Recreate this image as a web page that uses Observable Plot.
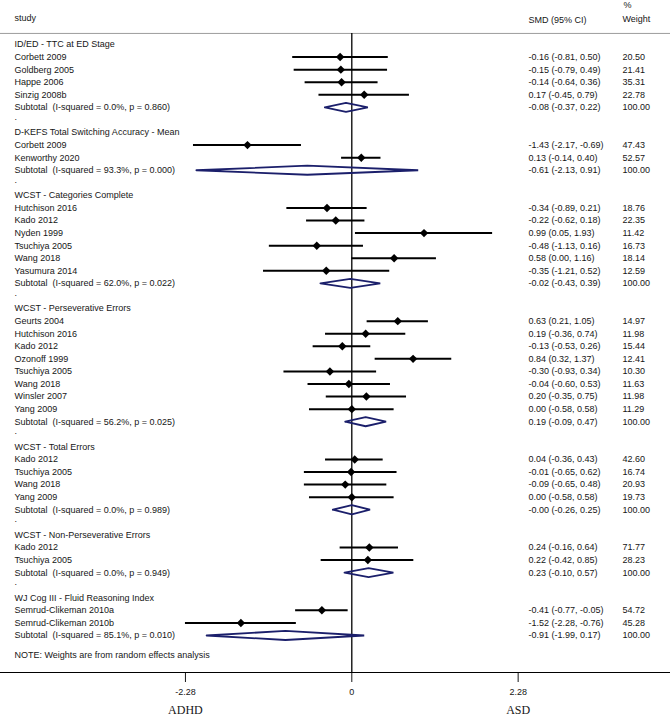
<!DOCTYPE html>
<html><head><meta charset="utf-8">
<script src="https://cdn.jsdelivr.net/npm/d3@7"></script>
<script src="https://cdn.jsdelivr.net/npm/@observablehq/plot@0.6"></script>
<style>body{margin:0;background:#fff} #chart svg{display:block}</style>
</head><body><div id="chart"></div>
<script>
const groupTitles = [
  "ID/ED - TTC at ED Stage",
  "D-KEFS Total Switching Accuracy - Mean",
  "WCST - Categories Complete",
  "WCST - Perseverative Errors",
  "WCST - Total Errors",
  "WCST - Non-Perseverative Errors",
  "WJ Cog III - Fluid Reasoning Index"
];
const studyNames = [
  "Corbett 2009","Goldberg 2005","Happe 2006","Sinzig 2008b",
  "Corbett 2009","Kenworthy 2020",
  "Hutchison 2016","Kado 2012","Nyden 1999","Tsuchiya 2005","Wang 2018","Yasumura 2014",
  "Geurts 2004","Hutchison 2016","Kado 2012","Ozonoff 1999","Tsuchiya 2005","Wang 2018","Winsler 2007","Yang 2009",
  "Kado 2012","Tsuchiya 2005","Wang 2018","Yang 2009",
  "Kado 2012","Tsuchiya 2005",
  "Semrud-Clikeman 2010a","Semrud-Clikeman 2010b"
];
const studyGroup = [0,0,0,0, 1,1, 2,2,2,2,2,2, 3,3,3,3,3,3,3,3, 4,4,4,4, 5,5, 6,6];
const smd    = [-0.16,-0.15,-0.14,0.17, -1.43,0.13, -0.34,-0.22,0.99,-0.48,0.58,-0.35, 0.63,0.19,-0.13,0.84,-0.30,-0.04,0.20,0.00, 0.04,-0.01,-0.09,0.00, 0.24,0.22, -0.41,-1.52];
const ciLow  = [-0.81,-0.79,-0.64,-0.45, -2.17,-0.14, -0.89,-0.62,0.05,-1.13,0.00,-1.21, 0.21,-0.36,-0.53,0.32,-0.93,-0.60,-0.35,-0.58, -0.36,-0.65,-0.65,-0.58, -0.16,-0.42, -0.77,-2.28];
const ciHigh = [0.50,0.49,0.36,0.79, -0.69,0.40, 0.21,0.18,1.93,0.16,1.16,0.52, 1.05,0.74,0.26,1.37,0.34,0.53,0.75,0.58, 0.43,0.62,0.48,0.58, 0.64,0.85, -0.05,-0.76];
const weightPct = [20.50,21.41,35.31,22.78, 47.43,52.57, 18.76,22.35,11.42,16.73,18.14,12.59, 14.97,11.98,15.44,12.41,10.30,11.63,11.98,11.29, 42.60,16.74,20.93,19.73, 71.77,28.23, 54.72,45.28];
const subSmd  = [-0.08,-0.61,-0.02,0.19,-0,0.23,-0.91];
const subLow  = [-0.37,-2.13,-0.43,-0.09,-0.26,-0.10,-1.99];
const subHigh = [0.22,0.91,0.39,0.47,0.25,0.57,0.17];
const subI2   = [0.0,93.3,62.0,56.2,0.0,0.0,85.1];
const subP    = [0.860,0.000,0.022,0.025,0.989,0.949,0.010];
const axisTicks = [-2.28, 0, 2.28];
const sideLabels = ["ADHD", "ASD"];
const headerTexts = ["study", "SMD (95% CI)", "%", "Weight"];
const noteText = "NOTE: Weights are from random effects analysis";

const fmt = v => (v < 0 || Object.is(v, -0)) ? "-" + Math.abs(v).toFixed(2) : v.toFixed(2);
const ciText = d => `${fmt(d.est)} (${fmt(d.lo)}, ${fmt(d.hi)})`;

const rows = [];
let r = 1;
groupTitles.forEach((title, g) => {
  rows.push({row: r++, kind: "title", label: title});
  studyNames.forEach((name, i) => {
    if (studyGroup[i] === g) rows.push({row: r++, kind: "study", label: name, est: smd[i], lo: ciLow[i], hi: ciHigh[i], wt: weightPct[i]});
  });
  rows.push({row: r++, kind: "sub", g, label: `Subtotal\u00a0 (I-squared = ${subI2[g].toFixed(1)}%, p = ${subP[g].toFixed(3)})`, est: subSmd[g], lo: subLow[g], hi: subHigh[g], wt: 100});
  if (g < groupTitles.length - 1) rows.push({row: r++, kind: "gap", label: "."});
});
const lastRow = r - 1;
const studies = rows.filter(d => d.kind === "study");
const subs = rows.filter(d => d.kind === "sub");
const numbered = rows.filter(d => d.kind === "study" || d.kind === "sub");
const labelled = rows.filter(d => d.kind !== "gap");
const gaps = rows.filter(d => d.kind === "gap");

const h = 0.36;
const diamondPts = subs.flatMap(d => [
  {g: d.g, x: d.lo, y: d.row},
  {g: d.g, x: d.est, y: d.row - h},
  {g: d.g, x: d.hi, y: d.row},
  {g: d.g, x: d.est, y: d.row + h},
  {g: d.g, x: d.lo, y: d.row}
]);

const W = 670, H = 720, MB = 48;
const rowPx = 12.574, row0Px = 31.43;
const yMax = (H - MB - row0Px) / rowPx;
const x0 = 351.3, pxPerUnit = 72.96;
const ink = "#161616";
const navy = "#1b1f6b";
const leftText = {frameAnchor: "left", textAnchor: "start", fill: ink};

const chart = Plot.plot({
  width: W, height: H,
  marginTop: 0, marginBottom: MB, marginLeft: 0, marginRight: 0,
  style: {fontFamily: "'Liberation Sans', Arial, Helvetica, sans-serif", fontSize: "9px", background: "#fff", color: ink},
  x: {domain: [-x0 / pxPerUnit, (W - x0) / pxPerUnit], range: [0, W], ticks: axisTicks,
      tickFormat: d => d === 0 ? "0" : d.toFixed(2), tickSize: 10, tickPadding: 6, label: null},
  y: {domain: [-row0Px / rowPx, yMax], reverse: true, axis: null},
  marks: [
    Plot.ruleY([0], {dy: 1.5, stroke: "#9c9c9c", strokeWidth: 1}),
    Plot.ruleX([0], {y1: 0.12, y2: yMax, stroke: "#000", strokeWidth: 1.3}),
    Plot.ruleY([yMax], {stroke: "#000", strokeWidth: 1}),
    Plot.ruleY(studies, {y: "row", x1: "lo", x2: "hi", stroke: "#000", strokeWidth: 2}),
    Plot.dot(studies, {x: "est", y: "row", symbol: "diamond2", r: 3.8, fill: "#000", stroke: null}),
    Plot.line(diamondPts, {x: "x", y: "y", z: "g", stroke: navy, strokeWidth: 1.8, fill: "none", strokeLinejoin: "miter"}),
    Plot.text(labelled, {y: "row", text: "label", dx: 14, ...leftText}),
    Plot.text(gaps, {y: "row", text: "label", dx: 14, dy: -3, ...leftText}),
    Plot.text(numbered, {y: "row", text: ciText, dx: 528, ...leftText}),
    Plot.text(numbered, {y: "row", text: d => d.wt.toFixed(2), dx: 622, ...leftText}),
    Plot.text([headerTexts[0]], {y: [-1.07], text: d => d, dx: 14, ...leftText}),
    Plot.text([headerTexts[1]], {y: [-0.95], text: d => d, dx: 528, ...leftText}),
    Plot.text([headerTexts[2]], {y: [-2.1], text: d => d, dx: 623, ...leftText}),
    Plot.text([headerTexts[3]], {y: [-1.04], text: d => d, dx: 622, ...leftText}),
    Plot.text([noteText], {y: [lastRow + 1.6], text: d => d, dx: 14, ...leftText}),
    Plot.text(sideLabels, {x: (d, i) => i === 0 ? axisTicks[0] : axisTicks[2], text: d => d,
      frameAnchor: "bottom", dy: 41, fontFamily: "'Liberation Serif', 'Times New Roman', serif", fontSize: 12, fill: ink})
  ]
});
document.getElementById("chart").append(chart);
</script>
</body></html>
